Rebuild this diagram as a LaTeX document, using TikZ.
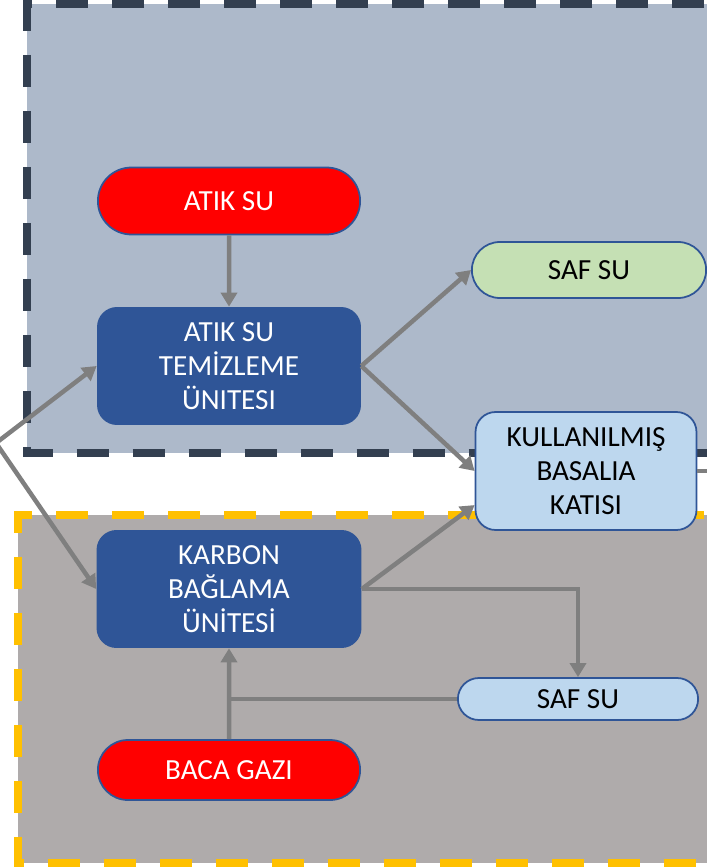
\documentclass[tikz,border=0pt]{standalone}
\usepackage{fontspec}
\setmainfont{Carlito}
\usepackage{tikz}
\usetikzlibrary{arrows.meta, shapes.misc, positioning}
\definecolor{unitblue}{HTML}{2F5597}
\definecolor{wastered}{HTML}{FF0000}
\definecolor{cleangreen}{HTML}{C5E0B4}
\definecolor{paleblue}{HTML}{BDD7EE}
\definecolor{waterzone}{HTML}{ADB9CA}
\definecolor{waterframe}{HTML}{333F50}
\definecolor{carbonzone}{HTML}{AFABAB}
\definecolor{carbonframe}{HTML}{FFC000}
\definecolor{flowgray}{HTML}{7F7F7F}

\begin{document}
\begin{tikzpicture}[
  x=0.02cm, y=-0.02cm,
  every node/.style={font=\fontsize{16.6}{19.4}\selectfont, align=center},
  pill/.style={rounded rectangle, draw=unitblue, line width=1pt,
               minimum height=1.34cm},
  source/.style={pill, fill=wastered, text=white, minimum width=5.48cm},
  unit/.style={rectangle, fill=unitblue, text=white, rounded corners=0.4cm,
               minimum width=5.28cm, minimum height=2.36cm},
  product/.style={pill, fill=paleblue, text=black},
  zone/.style={dashed, line width=0.15cm, dash pattern=on 0.64cm off 0.48cm},
  flow/.style={-{Triangle[length=0.28cm,width=0.32cm]}, line width=0.09cm, color=flowgray},
  line/.style={line width=0.09cm, color=flowgray},
]
  \useasboundingbox (0,0) rectangle (706,868);

  % Zones
  \draw[zone, draw=waterframe, fill=waterzone] (760,4) -- (27,4) -- (27,453) -- (760,453);
  \draw[zone, draw=carbonframe, fill=carbonzone] (760,515) -- (18,515) -- (18,863) -- (760,863);

  % Water line
  \node[source]                  (atik)   at (229,201) {ATIK SU};
  \node[unit]                    (temiz)  at (229,366) {ATIK SU\\TEMİZLEME\\ÜNITESI};
  \node[product, fill=cleangreen, minimum width=4.92cm, minimum height=1.12cm]
                                 (saf)    at (589,270) {SAF SU};
  \node[product, rectangle, rounded corners=0.4cm, minimum width=4.42cm, minimum height=2.36cm]
                                 (kbk)    at (586,471) {KULLANILMIŞ\\BASALIA\\KATISI};

  % Carbon line
  \node[unit, minimum width=5.3cm] (karbon) at (229,589) {KARBON\\BAĞLAMA\\ÜNİTESİ};
  \node[product, minimum width=5.04cm, minimum height=0.84cm]
                                 (saf2)   at (578,699) {SAF SU};
  \node[source, minimum height=1.2cm] (baca) at (229,770) {BACA GAZI};

  % Off-picture ends
  \coordinate (feed) at (-4,443);
  \coordinate (out)  at (760,471);

  % Flows
  \draw[flow] (atik) -- (temiz);
  \draw[flow] (feed) -- (temiz.west);
  \draw[flow] (feed) -- (karbon.west);
  \draw[flow] (temiz.east) -- (saf.west);
  \draw[flow] (temiz.east) -- (kbk.west);
  \draw[flow] (karbon.east) -- (kbk.197);
  \draw[flow] (karbon.east) -| (saf2.north);
  \draw[flow] (baca) -- (karbon);
  \draw[line] (saf2.west) -- (saf2.west -| baca.north);
  \draw[line] (kbk.east) -- (out);
\end{tikzpicture}
\end{document}
